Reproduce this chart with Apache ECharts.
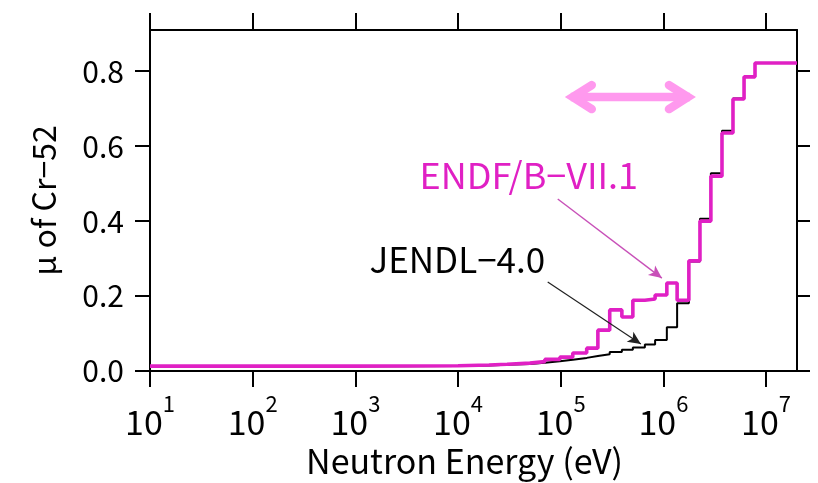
<!DOCTYPE html>
<html><head><meta charset="utf-8">
<script src="https://cdn.jsdelivr.net/npm/echarts@6/dist/echarts.min.js"></script>
<style>html,body{margin:0;padding:0;background:#fff}#c{width:818px;height:483px}</style>
</head><body><div id="c"></div>
<script>
// Bin edges of the step histograms (eV)
const energyEdges = [10, 1e3, 3e3, 1e4, 2e4, 3e4, 5e4, 7e4, 9.8e4, 1.31e5, 1.79e5, 2.3e5, 3.0e5, 3.94e5,
  5.04e5, 6.6e5, 8.3e5, 1.08e6, 1.36e6, 1.77e6, 2.27e6, 2.9e6, 3.72e6, 4.76e6, 6.1e6, 7.8e6, 2e7];
// mu values per bin
const endfValues = [0.013, 0.0135, 0.014, 0.016, 0.018, 0.021, 0.025, 0.031, 0.037, 0.048, 0.061, 0.109, 0.163,
  0.144, 0.189, 0.192, 0.203, 0.235, 0.189, 0.294, 0.400, 0.520, 0.635, 0.726, 0.785, 0.822];
const jendlValues = [0.013, 0.013, 0.0135, 0.015, 0.017, 0.019, 0.022, 0.026, 0.030, 0.035, 0.040, 0.045, 0.051,
  0.057, 0.063, 0.071, 0.083, 0.117, 0.181, 0.292, 0.406, 0.528, 0.641, 0.727, 0.785, 0.822];
const xTickValues = [1e1, 1e2, 1e3, 1e4, 1e5, 1e6, 1e7];
const yTickValues = [0, 0.2, 0.4, 0.6, 0.8];
const seriesNames = ['JENDL\u22124.0', 'ENDF/B\u2212VII.1'];
// annotation anchors in data space [energy, mu]
const endfLabelAt = [4.21e3, 0.507];
const jendlLabelAt = [1.37e3, 0.283];
const endfArrow = [[9.35e4, 0.459], [9.66e5, 0.248]];
const jendlArrow = [[7.47e4, 0.2375], [6.03e5, 0.072]];
const rangeArrow = [[1.047e5, 0.731], [2.17e6, 0.731]];

const FONT = '"Noto Sans CJK JP", "Noto Sans", sans-serif';
const MAG = '#e020c4';
const X_MIN = 10, X_MAX = 2e7, Y_MIN = 0, Y_MAX = 0.91;

function stepData(vals) {
  const d = vals.map((v, i) => [energyEdges[i], v]);
  d.push([energyEdges[energyEdges.length - 1], vals[vals.length - 1]]);
  return d;
}
function arrowLine(a, color, w) {
  return {
    silent: true, animation: false,
    label: { show: false },
    lineStyle: { color: color, width: w, type: 'solid' },
    symbolSize: [9, 13],
    data: [[{ coord: a[0], symbol: 'none' }, { coord: a[1], symbol: 'arrow' }]]
  };
}

const chart = echarts.init(document.getElementById('c'), null, { renderer: 'canvas' });
const axLine = { show: true, onZero: false, lineStyle: { color: '#000', width: 2 } };
chart.setOption({
  animation: false,
  backgroundColor: '#fff',
  grid: { left: 150, right: 21, top: 30, bottom: 112 },
  xAxis: [
    {
      type: 'log', logBase: 10, min: X_MIN, max: X_MAX, position: 'bottom',
      axisLine: axLine, splitLine: { show: false }, minorTick: { show: false },
      axisTick: { show: true, inside: false, length: 16, lineStyle: { color: '#000', width: 2 }, customValues: xTickValues },
      axisLabel: {
        show: true, margin: 22, customValues: xTickValues,
        formatter: v => '{a|10}{b|' + Math.round(Math.log10(v)) + '}',
        rich: {
          a: { fontSize: 34, lineHeight: 46, verticalAlign: 'bottom', fontFamily: FONT, color: '#000' },
          b: { fontSize: 22, lineHeight: 22, verticalAlign: 'top', fontFamily: FONT, color: '#000' }
        }
      },
      name: 'Neutron Energy (eV)', nameLocation: 'middle', nameGap: 64,
      nameTextStyle: { fontSize: 34, fontFamily: FONT, color: '#000', padding: [0, 18, 0, 0] }
    },
    {
      // mirrored top frame, same decade positions (log10 of energy)
      type: 'value', min: Math.log10(X_MIN), max: Math.log10(X_MAX), position: 'top',
      axisLine: axLine, splitLine: { show: false },
      axisTick: { show: true, inside: false, length: 17, lineStyle: { color: '#000', width: 2 },
        customValues: xTickValues.map(v => Math.log10(v)) },
      axisLabel: { show: false }
    }
  ],
  yAxis: [
    {
      type: 'value', min: Y_MIN, max: Y_MAX, position: 'left',
      axisLine: axLine, splitLine: { show: false },
      axisTick: { show: true, inside: false, length: 15, lineStyle: { color: '#000', width: 2 }, customValues: yTickValues },
      axisLabel: { show: true, margin: 26, customValues: yTickValues, formatter: v => v.toFixed(1),
        fontSize: 30, fontFamily: FONT, color: '#000' },
      name: '\u03bc of Cr\u221252', nameLocation: 'middle', nameGap: 90, nameRotate: 90,
      nameTextStyle: { fontSize: 32, fontFamily: FONT, color: '#000' }
    },
    {
      type: 'value', min: Y_MIN, max: Y_MAX, position: 'right',
      axisLine: axLine, splitLine: { show: false },
      axisTick: { show: true, inside: false, length: 13, lineStyle: { color: '#000', width: 2 }, customValues: yTickValues },
      axisLabel: { show: false }
    }
  ],
  series: [
    {
      name: seriesNames[0], type: 'line', step: 'end', xAxisIndex: 0, yAxisIndex: 0,
      data: stepData(jendlValues), showSymbol: false, symbol: 'none',
      lineStyle: { color: '#000', width: 2 }, z: 2,
      markLine: arrowLine(jendlArrow, '#222', 1.2)
    },
    {
      name: seriesNames[1], type: 'line', step: 'end', xAxisIndex: 0, yAxisIndex: 0,
      data: stepData(endfValues), showSymbol: false, symbol: 'none',
      lineStyle: { color: MAG, width: 3.6 }, z: 3,
      markLine: arrowLine(endfArrow, '#c850b8', 1.4)
    }
  ]
});

function px(p) { return chart.convertToPixel({ xAxisIndex: 0, yAxisIndex: 0 }, p); }
const L = px(endfLabelAt), J = px(jendlLabelAt);
const A0 = px(rangeArrow[0]), A1 = px(rangeArrow[1]);
const PINK = '#ff99ee', AW = 8.5;
const y0 = A0[1];
chart.setOption({
  graphic: [
    { type: 'text', left: L[0], top: L[1] - 24, style: { text: seriesNames[1], fill: MAG, font: '36px ' + FONT }, z: 10 },
    { type: 'text', left: J[0], top: J[1] - 23, style: { text: seriesNames[0], fill: '#000', font: '35px ' + FONT }, z: 10 },
    { type: 'line', shape: { x1: A0[0] + 8, y1: y0, x2: A1[0] - 8, y2: y0 },
      style: { stroke: PINK, lineWidth: AW, lineCap: 'butt' }, z: 10 },
    { type: 'polyline', shape: { points: [[A0[0] + 29, y0 - 12], [A0[0] + 10, y0], [A0[0] + 29, y0 + 12]] },
      style: { stroke: PINK, lineWidth: AW, lineCap: 'round', lineJoin: 'miter', fill: null }, z: 10 },
    { type: 'polyline', shape: { points: [[A1[0] - 29, y0 - 12], [A1[0] - 10, y0], [A1[0] - 29, y0 + 12]] },
      style: { stroke: PINK, lineWidth: AW, lineCap: 'round', lineJoin: 'miter', fill: null }, z: 10 }
  ]
});
</script></body></html>
